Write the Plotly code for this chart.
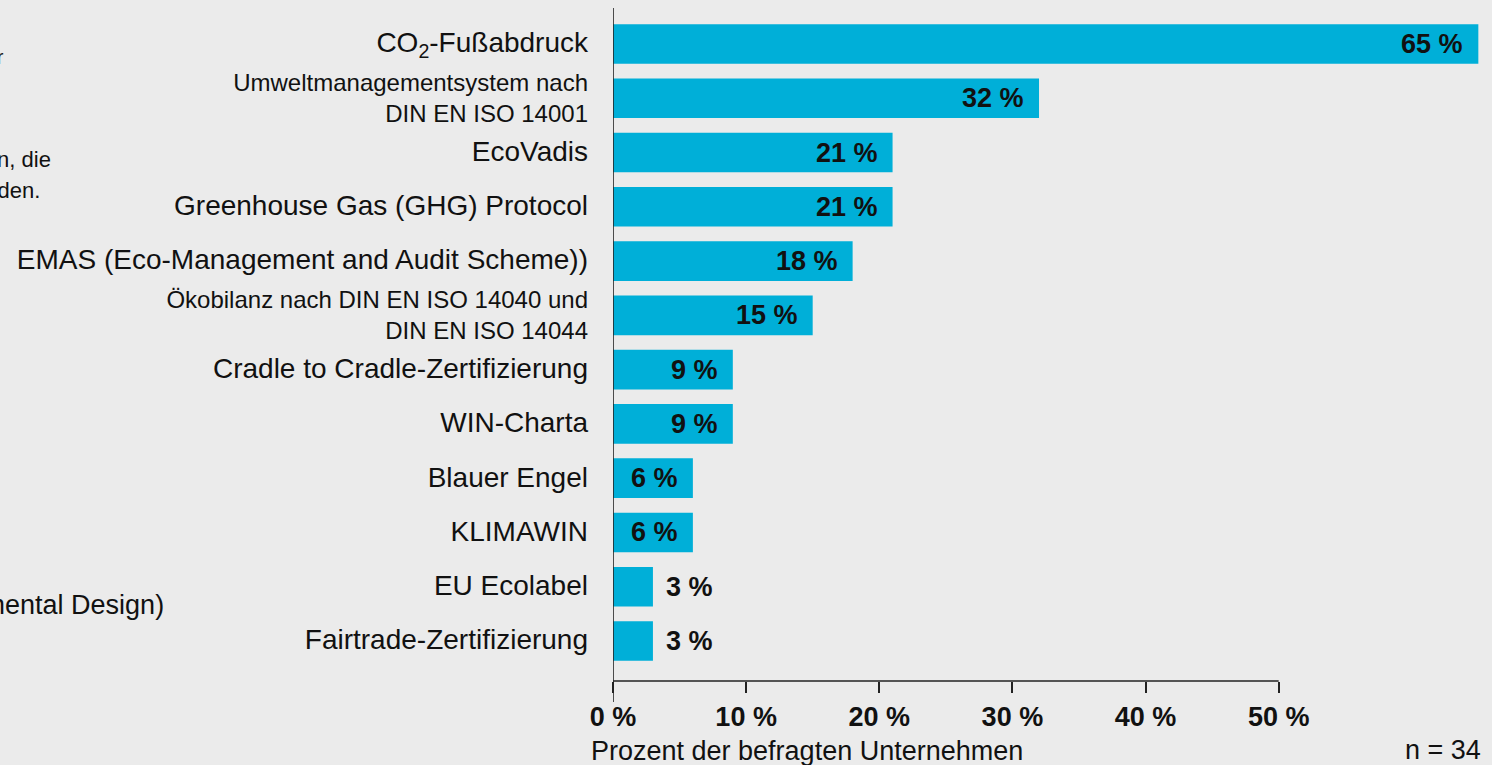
import plotly.graph_objects as go

categories = [
    "CO2-Fußabdruck",
    "Umweltmanagementsystem nach DIN EN ISO 14001",
    "EcoVadis",
    "Greenhouse Gas (GHG) Protocol",
    "EMAS (Eco-Management and Audit Scheme))",
    "Ökobilanz nach DIN EN ISO 14040 und DIN EN ISO 14044",
    "Cradle to Cradle-Zertifizierung",
    "WIN-Charta",
    "Blauer Engel",
    "KLIMAWIN",
    "EU Ecolabel",
    "Fairtrade-Zertifizierung",
]
display_labels = [
    "<span style='font-size:28px'>CO<sub>2</sub>-Fußabdruck</span>",
    "Umweltmanagementsystem nach<br>DIN EN ISO 14001",
    "<span style='font-size:28px'>EcoVadis</span>",
    "<span style='font-size:28px'>Greenhouse Gas (GHG) Protocol</span>",
    "<span style='font-size:28px'>EMAS (Eco-Management and Audit Scheme))</span>",
    "Ökobilanz nach DIN EN ISO 14040 und<br>DIN EN ISO 14044",
    "<span style='font-size:28px'>Cradle to Cradle-Zertifizierung</span>",
    "<span style='font-size:28px'>WIN-Charta</span>",
    "<span style='font-size:28px'>Blauer Engel</span>",
    "<span style='font-size:28px'>KLIMAWIN</span>",
    "<span style='font-size:28px'>EU Ecolabel</span>",
    "<span style='font-size:28px'>Fairtrade-Zertifizierung</span>",
]
values = [65, 32, 21, 21, 18, 15, 9, 9, 6, 6, 3, 3]
tick_values = [0, 10, 20, 30, 40, 50]
tick_labels = ["0 %", "10 %", "20 %", "30 %", "40 %", "50 %"]

BG = "#EBEBEB"
BAR = "#00AFD8"
FONT = "Liberation Sans, Arial, sans-serif"
W, H = 1492, 765
ML, MR, MT, MB = 613, 7, 8, 84
plot_h = H - MT - MB

fig = go.Figure(go.Bar(
    x=values, y=categories, orientation="h",
    marker=dict(color=BAR, line=dict(width=0)),
    width=0.73, hoverinfo="skip",
))

# value labels
for c, v in zip(categories, values):
    inside = v >= 6
    fig.add_annotation(
        x=v, y=c, xref="x", yref="y", text=f"{v} %", showarrow=False,
        xanchor="right" if inside else "left", xshift=-13 if inside else 11,
        font=dict(family=FONT, size=27, color="#111", weight="bold"),
    )

# axis lines
fig.add_shape(type="line", xref="x", yref="paper", x0=0, x1=50, y0=0, y1=0,
              line=dict(color="#222", width=1.6))
fig.add_shape(type="line", xref="x", yref="paper", x0=0, x1=0, y0=1, y1=-21 / plot_h,
              line=dict(color="#222", width=1.6))

# axis title and n
fig.add_annotation(x=0, y=-(751 - (H - MB)) / plot_h, xref="x", yref="paper",
                   xanchor="left", yanchor="middle", xshift=-24, showarrow=False,
                   text="Prozent der befragten Unternehmen",
                   font=dict(family=FONT, size=27, color="#111"))
fig.add_annotation(x=1, y=-(750 - (H - MB)) / plot_h, xref="paper", yref="paper",
                   xanchor="right", yanchor="middle", xshift=-2, showarrow=False,
                   text="n = 34", font=dict(family=FONT, size=27, color="#111"))

pw = W - ML - MR
def px_x(p):
    return (p - ML) / pw
def px_y(p):
    return 1 - (p - MT) / plot_h

# fragments of cut-off text at the left edge
for txt, xr, yc, size in [
    ("für", 6, 57, 20),
    ("Unternehmen, die", 53, 160, 22),
    ("werden.", 42, 191, 22),
    ("Environmental Design)", 166, 605, 27),
]:
    fig.add_annotation(x=px_x(xr), y=px_y(yc), xref="paper", yref="paper",
                       xanchor="right", yanchor="middle", showarrow=False,
                       text=txt, font=dict(family=FONT, size=size, color="#111"))

n = len(categories)
fig.update_layout(
    width=W, height=H,
    paper_bgcolor=BG, plot_bgcolor=BG,
    margin=dict(l=ML, r=MR, t=MT, b=MB, autoexpand=False),
    showlegend=False,
    xaxis=dict(range=[0, 65.5], tickvals=tick_values, ticktext=tick_labels,
               ticks="outside", ticklen=11, tickwidth=1.6, tickcolor="#222",
               showgrid=False, zeroline=False, showline=False,
               tickfont=dict(family=FONT, size=27, color="#111", weight="bold"),
               ticklabelstandoff=1),
    yaxis=dict(range=[n - 1 + 0.737, -0.663], tickvals=categories, ticktext=display_labels,
               ticks="", showgrid=False, zeroline=False, showline=False,
               tickfont=dict(family=FONT, size=24, color="#111"),
               ticklabelstandoff=24),
)

fig.write_html("out.html", config={"displayModeBar": False},
               post_script="document.body.style.margin='0';document.body.style.overflow='hidden';")
